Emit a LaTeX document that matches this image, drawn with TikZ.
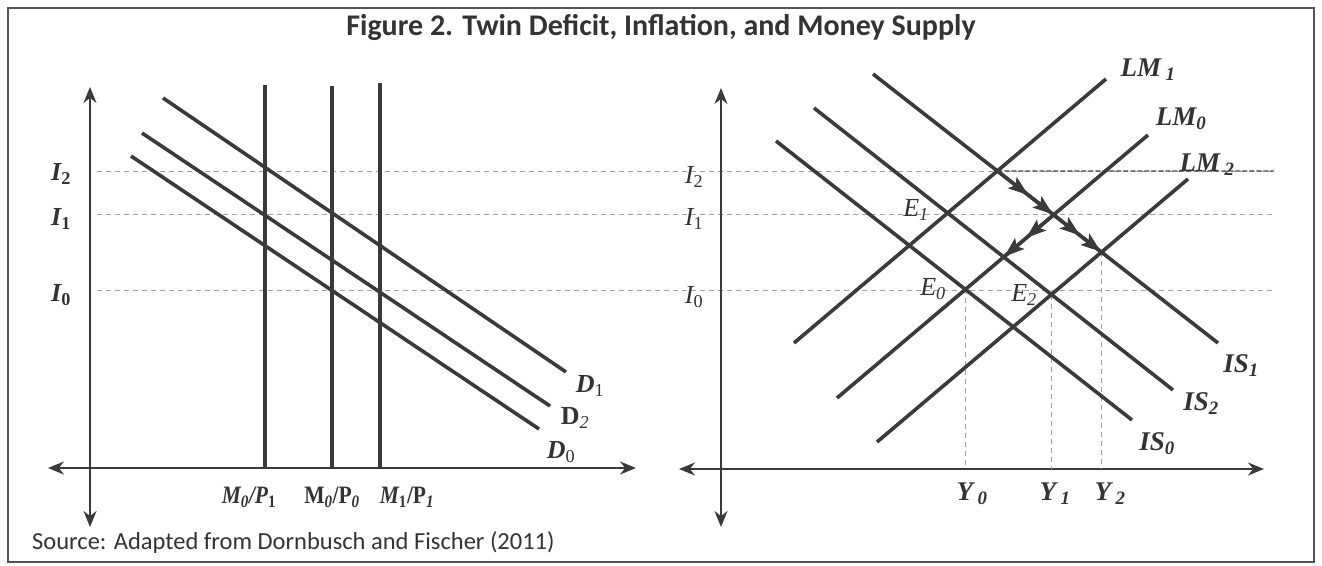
\documentclass[tikz,border=0pt]{standalone}
\usepackage{fontspec}
\setmainfont{Liberation Serif}
\newfontfamily\labfont{Liberation Serif}
\newfontfamily\condfont[FakeStretch=0.86]{Liberation Serif}
\newfontfamily\calibri{Carlito}
\usetikzlibrary{arrows.meta,calc,intersections,decorations.markings}
\definecolor{linec}{HTML}{3A3A3A}
\definecolor{textc}{HTML}{333333}
\definecolor{framec}{HTML}{555555}
\definecolor{guidec}{HTML}{A0A0A0}
\tikzset{
  curve/.style={line width=3.6pt, draw=linec},
  axis/.style={line width=2.3pt, draw=linec, {Stealth[length=16pt,width=13pt]}-{Stealth[length=16pt,width=13pt]}},
  guide/.style={draw=guidec, line width=0.9pt, dash pattern=on 5pt off 4pt},
  guidedark/.style={draw=gray!55!black, line width=1.3pt, dash pattern=on 5pt off 2pt},
  boldlab/.style={font=\labfont\fontsize{26}{26}\selectfont\bfseries, text=textc, inner sep=0pt},
  mlab/.style={font=\condfont\fontsize{25}{25}\selectfont\bfseries, text=textc, inner sep=0pt},
  itlab/.style={font=\labfont\fontsize{26}{26}\selectfont\itshape, text=textc, inner sep=0pt},
  bilab/.style={font=\labfont\fontsize{27}{27}\selectfont\bfseries\itshape, text=textc, inner sep=0pt},
  flowarrow/.style={draw=linec, line width=3.4pt, postaction={decorate},
    decoration={markings,
      mark=at position 0.55 with {\arrow{Stealth[length=20pt,width=14pt,inset=4pt]}},
      mark=at position 0.99 with {\arrow{Stealth[length=20pt,width=14pt,inset=4pt]}}}}
}
\begin{document}
\begin{tikzpicture}[x=1pt,y=-1pt]
\useasboundingbox (0,0) rectangle (1322,565);
\draw[framec, line width=1.8pt] (8,8) rectangle (1314,562);

% title and source
\node[text=textc, font=\calibri\bfseries\fontsize{30}{30}\selectfont] (title) at (661,27) {Figure 2. Twin Deficit, Inflation, and Money Supply};
\node[text=textc, anchor=west, font=\calibri\fontsize{24.5}{24.5}\selectfont, inner sep=0pt] (source) at (32,543) {Source: Adapted from Dornbusch and Fischer (2011)};

% horizontal guides
\coordinate (g2a) at (97,171); \coordinate (g2b) at (1274,171);
\coordinate (g1a) at (97,214); \coordinate (g1b) at (1272,214);
\coordinate (g0a) at (97,290); \coordinate (g0b) at (1272,290);
\draw[guide] (g2a) -- (g2b);
\draw[guide] (g1a) -- (g1b);
\draw[guide] (g0a) -- (g0b);

% ---------- left graph ----------
\coordinate (lvt) at (90,87); \coordinate (lvb) at (90,527);
\coordinate (lhl) at (48,468); \coordinate (lhr) at (636,468);
\draw[axis] (lvb) -- (lvt);
\draw[axis] (lhl) -- (lhr);

\coordinate (m1t) at (265,85);  \coordinate (m1b) at (265,468);
\coordinate (m2t) at (332,86);  \coordinate (m2b) at (332,468);
\coordinate (m3t) at (380,83);  \coordinate (m3b) at (380,468);
\draw[curve] (m1t) -- (m1b);
\draw[curve] (m2t) -- (m2b);
\draw[curve] (m3t) -- (m3b);

\coordinate (d1a) at (163,98);  \coordinate (d1b) at (566,372);
\coordinate (d2a) at (142,133); \coordinate (d2b) at (550,406);
\coordinate (d0a) at (131,156); \coordinate (d0b) at (539,429);
\draw[curve] (d1a) -- (d1b);
\draw[curve] (d2a) -- (d2b);
\draw[curve] (d0a) -- (d0b);

\node[boldlab] (li2) at (61,174) {\itshape I\textsubscript{\upshape 2}};
\node[boldlab] (li1) at (61,219) {\itshape I\textsubscript{\upshape 1}};
\node[boldlab] (li0) at (61,295) {\itshape I\textsubscript{\upshape 0}};

\node[boldlab] (ld1) at (590,386) {\itshape D\textsubscript{\upshape\mdseries 1}};
\node[boldlab] (ld2) at (575,418) {D\textsubscript{\itshape\mdseries 2}};
\node[boldlab] (ld0) at (561,452) {\itshape D\textsubscript{\upshape\mdseries 0}};

\node[mlab] (lm1) at (249,497) {\itshape M\textsubscript{0}/P\textsubscript{\upshape 1}};
\node[mlab] (lm2) at (332,497) {M\textsubscript{\itshape 0}/P\textsubscript{\itshape 0}};
\node[mlab] (lm3) at (407,497) {\itshape M\textsubscript{\upshape 1}\upshape/P\textsubscript{\itshape 1}};

% ---------- right graph ----------
\coordinate (rvt) at (721,88); \coordinate (rvb) at (721,527);
\coordinate (rhl) at (679,469); \coordinate (rhr) at (1264,469);
\draw[axis] (rvb) -- (rvt);
\draw[axis] (rhl) -- (rhr);

\coordinate (lm1a) at (794,343); \coordinate (lm1b) at (1106,79);
\coordinate (lm0a) at (837,398); \coordinate (lm0b) at (1148,135);
\coordinate (lm2a) at (877,442); \coordinate (lm2b) at (1188,179);
\coordinate (is1a) at (873,74);  \coordinate (is1b) at (1218,343);
\coordinate (is2a) at (814,108); \coordinate (is2b) at (1173,390);
\coordinate (is0a) at (776,141); \coordinate (is0b) at (1132,420);
\path[name path=LMone]  (lm1a) -- (lm1b);
\path[name path=LMzero] (lm0a) -- (lm0b);
\path[name path=LMtwo]  (lm2a) -- (lm2b);
\path[name path=ISone]  (is1a) -- (is1b);
\path[name path=IStwo]  (is2a) -- (is2b);
\path[name path=ISzero] (is0a) -- (is0b);
\path[name intersections={of=LMone and ISone, by=pA}];
\path[name intersections={of=LMzero and ISone, by=pB}];
\path[name intersections={of=LMtwo and ISone, by=pC}];
\path[name intersections={of=LMzero and IStwo, by=pD}];
\path[name intersections={of=LMzero and ISzero, by=pE0}];
\path[name intersections={of=LMtwo and IStwo, by=pE2}];

\coordinate (r2end) at (1274,171);
\draw[guidedark] (pA) -- (r2end);
\coordinate (y0b) at (pE0 |- rhl); \coordinate (y1b) at (pE2 |- rhl); \coordinate (y2b) at (pC |- rhl);
\draw[guide] (pE0) -- (y0b);
\draw[guide] (pE2) -- (y1b);
\draw[guide] (pC) -- (y2b);

\draw[curve] (lm1a) -- (lm1b);
\draw[curve] (lm0a) -- (lm0b);
\draw[curve] (lm2a) -- (lm2b);
\draw[curve] (is1a) -- (is1b);
\draw[curve] (is2a) -- (is2b);
\draw[curve] (is0a) -- (is0b);

\draw[flowarrow] (pA) -- (pB);
\draw[flowarrow] (pB) -- (pC);
\draw[flowarrow] (pB) -- (pD);

\node[itlab] (ri2) at (694,177) {I\textsubscript{\upshape 2}};
\node[itlab] (ri1) at (694,219) {I\textsubscript{\upshape 1}};
\node[itlab] (ri0) at (694,297) {I\textsubscript{\upshape 0}};

\node[bilab] (tlm1) at (1148,70)  {LM\,\textsubscript{1}};
\node[bilab] (tlm0) at (1181,119) {LM\textsubscript{0}};
\node[bilab] (tlm2) at (1207,165) {LM\,\textsubscript{2}};
\node[bilab] (tis1) at (1241,366) {IS\textsubscript{1}};
\node[bilab] (tis2) at (1201,404) {IS\textsubscript{2}};
\node[bilab] (tis0) at (1157,444) {IS\textsubscript{0}};
\node[itlab] (te1) at (916,210) {E\textsubscript{1}};
\node[itlab] (te0) at (933,289) {E\textsubscript{0}};
\node[itlab] (te2) at (1024,295) {E\textsubscript{2}};
\node[bilab] (ty0) at (972,494) {Y\,\textsubscript{0}};
\node[bilab] (ty1) at (1055,494) {Y\,\textsubscript{1}};
\node[bilab] (ty2) at (1110,494) {Y\,\textsubscript{2}};
\end{tikzpicture}
\end{document}
